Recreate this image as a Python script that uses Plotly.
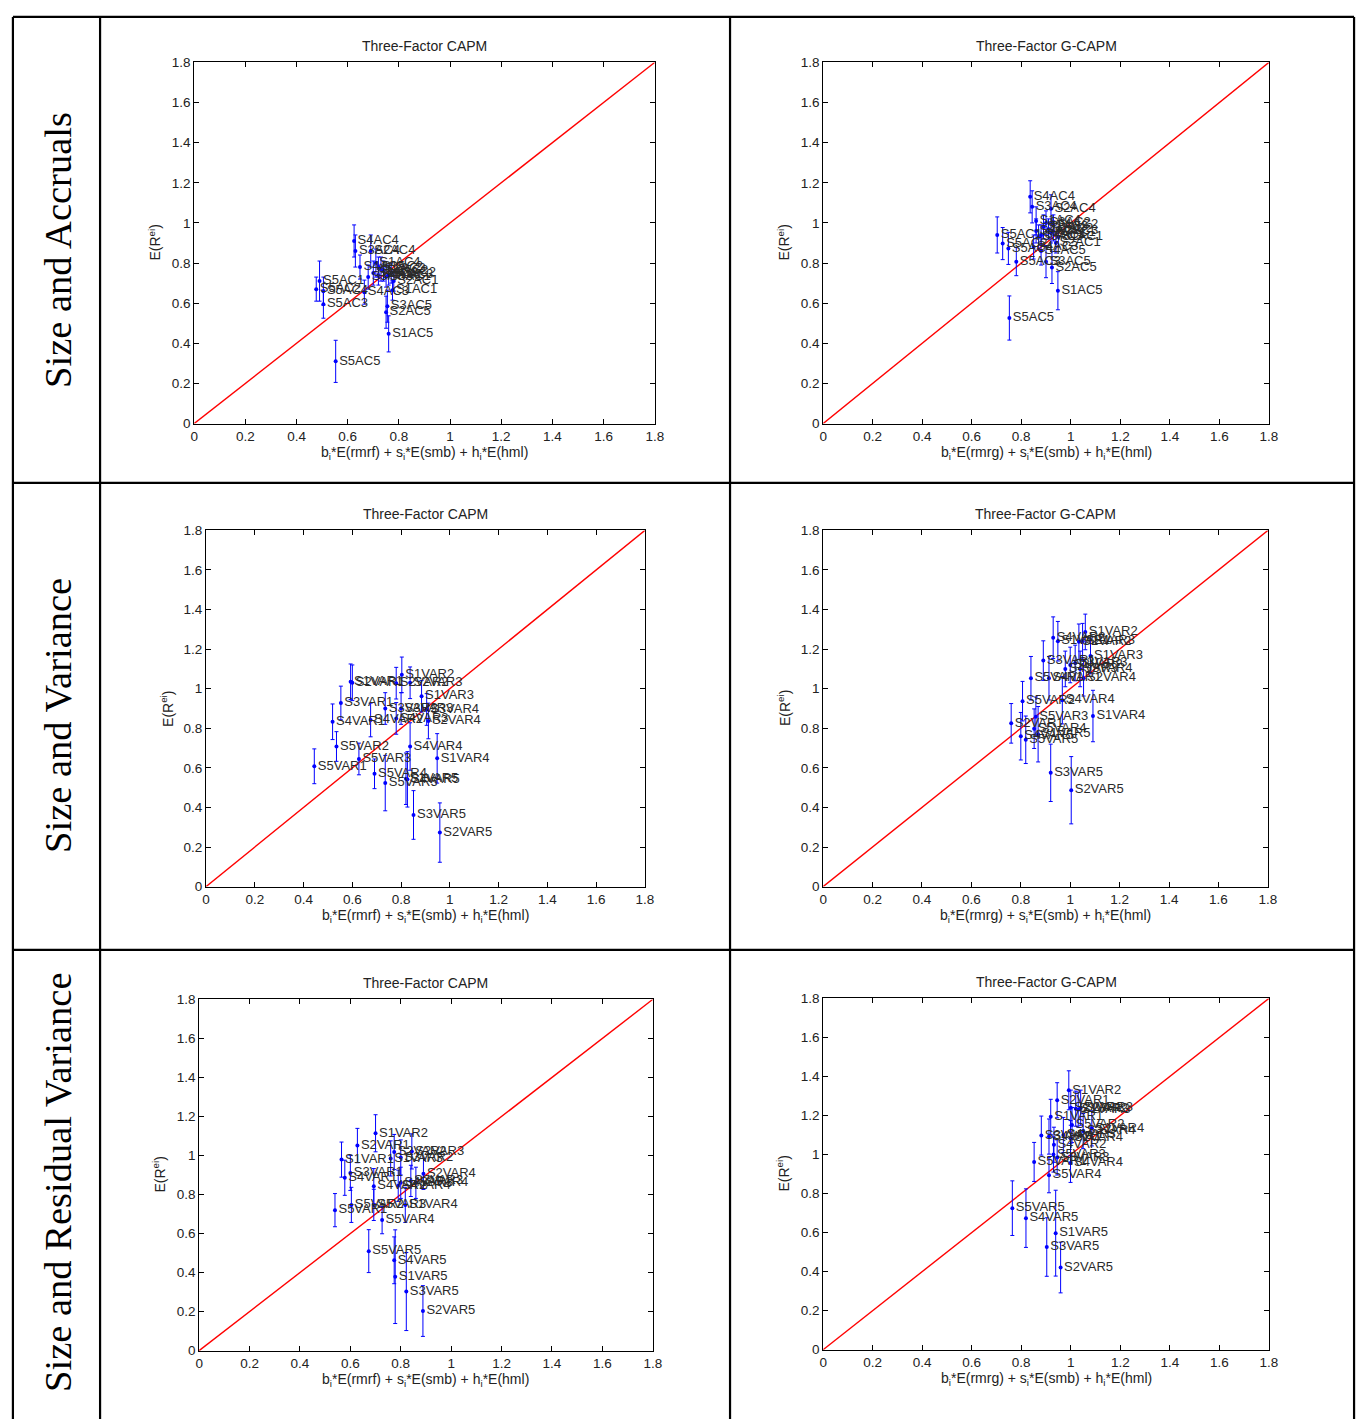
import plotly.graph_objects as go

W, H = 1370, 1419

# ---------------- data ----------------
ac_names = [f"S{s}AC{a}" for s in range(1, 6) for a in range(1, 6)]
var_names = [f"S{s}VAR{v}" for s in range(1, 6) for v in range(1, 6)]

# Panel 1: Size and Accruals, Three-Factor CAPM  (order S1AC1..S1AC5, S2AC1.. ...)
p1_x = [0.775, 0.72, 0.73, 0.71, 0.76,
        0.78, 0.74, 0.76, 0.69, 0.75,
        0.75, 0.77, 0.68, 0.63, 0.755,
        0.72, 0.70, 0.665, 0.625, 0.648,
        0.49, 0.477, 0.505, 0.505, 0.553]
p1_y = [0.665, 0.78, 0.77, 0.80, 0.447,
        0.71, 0.76, 0.74, 0.86, 0.555,
        0.73, 0.75, 0.73, 0.86, 0.585,
        0.74, 0.75, 0.655, 0.91, 0.78,
        0.71, 0.67, 0.595, 0.66, 0.31]
p1_e = [0.05, 0.05, 0.06, 0.07, 0.09,
        0.05, 0.05, 0.05, 0.08, 0.08,
        0.05, 0.05, 0.06, 0.08, 0.08,
        0.05, 0.06, 0.06, 0.08, 0.06,
        0.10, 0.06, 0.07, 0.07, 0.105]

# Panel 2: Size and Accruals, Three-Factor G-CAPM
p2_x = [0.95, 0.93, 0.89, 0.86, 0.948,
        0.94, 0.91, 0.93, 0.92, 0.924,
        0.92, 0.90, 0.87, 0.844, 0.90,
        0.88, 0.86, 0.85, 0.836, 0.88,
        0.703, 0.725, 0.78, 0.748, 0.752]
p2_y = [0.93, 0.99, 0.98, 1.01, 0.662,
        0.90, 0.97, 0.96, 1.07, 0.778,
        0.95, 1.00, 0.93, 1.08, 0.807,
        0.94, 0.96, 0.88, 1.13, 0.86,
        0.94, 0.897, 0.807, 0.873, 0.526]
p2_e = [0.05, 0.05, 0.06, 0.07, 0.095,
        0.05, 0.05, 0.05, 0.07, 0.08,
        0.05, 0.06, 0.06, 0.08, 0.08,
        0.05, 0.06, 0.06, 0.08, 0.07,
        0.09, 0.08, 0.07, 0.08, 0.11]

# Panel 3: Size and Variance, Three-Factor CAPM
p3_x = [0.593, 0.803, 0.884, 0.948, 0.82,
        0.60, 0.78, 0.837, 0.912, 0.959,
        0.553, 0.735, 0.80, 0.905, 0.851,
        0.519, 0.675, 0.78, 0.837, 0.826,
        0.444, 0.535, 0.627, 0.691, 0.735]
p3_y = [1.035, 1.07, 0.962, 0.648, 0.545,
        1.03, 1.028, 1.03, 0.837, 0.273,
        0.928, 0.90, 0.90, 0.895, 0.362,
        0.833, 0.842, 0.85, 0.708, 0.542,
        0.608, 0.708, 0.645, 0.57, 0.523]
p3_e = [0.09, 0.09, 0.08, 0.125, 0.13,
        0.09, 0.08, 0.08, 0.09, 0.15,
        0.085, 0.08, 0.08, 0.08, 0.123,
        0.09, 0.085, 0.08, 0.12, 0.14,
        0.088, 0.075, 0.08, 0.075, 0.14]

# Panel 4: Size and Variance, Three-Factor G-CAPM
p4_x = [0.95, 1.061, 1.082, 1.092, 0.87,
        0.761, 1.035, 1.05, 1.054, 1.004,
        0.891, 1.00, 1.02, 1.04, 0.921,
        0.914, 0.931, 0.98, 0.968, 0.80,
        0.841, 0.807, 0.861, 0.854, 0.82]
p4_y = [1.24, 1.287, 1.165, 0.862, 0.77,
        0.825, 1.237, 1.24, 1.053, 0.487,
        1.142, 1.12, 1.13, 1.10, 0.575,
        1.053, 1.258, 1.10, 0.942, 0.76,
        1.053, 0.937, 0.858, 0.798, 0.742]
p4_e = [0.10, 0.09, 0.09, 0.13, 0.14,
        0.10, 0.09, 0.09, 0.09, 0.17,
        0.10, 0.09, 0.09, 0.09, 0.145,
        0.11, 0.105, 0.09, 0.12, 0.12,
        0.11, 0.10, 0.10, 0.10, 0.12]

# Panel 5: Size and Residual Variance, Three-Factor CAPM
p5_x = [0.565, 0.70, 0.76, 0.818, 0.778,
        0.628, 0.774, 0.844, 0.89, 0.888,
        0.60, 0.80, 0.84, 0.86, 0.822,
        0.578, 0.693, 0.80, 0.79, 0.774,
        0.539, 0.604, 0.693, 0.726, 0.673]
p5_y = [0.979, 1.114, 0.985, 0.747, 0.379,
        1.051, 1.018, 1.021, 0.906, 0.203,
        0.911, 0.99, 0.87, 0.86, 0.303,
        0.886, 0.843, 0.86, 0.845, 0.463,
        0.72, 0.747, 0.747, 0.669, 0.51]
p5_e = [0.09, 0.095, 0.09, 0.09, 0.24,
        0.088, 0.09, 0.09, 0.08, 0.13,
        0.09, 0.09, 0.08, 0.08, 0.20,
        0.09, 0.09, 0.08, 0.08, 0.12,
        0.085, 0.09, 0.08, 0.07, 0.11]

# Panel 6: Size and Residual Variance, Three-Factor G-CAPM
p6_x = [0.919, 0.992, 1.03, 1.085, 0.939,
        0.945, 1.00, 1.04, 0.999, 0.959,
        0.881, 1.02, 0.945, 1.05, 0.903,
        0.912, 0.932, 0.97, 0.999, 0.819,
        0.852, 1.005, 0.93, 0.912, 0.764]
p6_y = [1.193, 1.329, 1.23, 1.134, 0.597,
        1.278, 1.24, 1.24, 1.084, 0.421,
        1.097, 1.235, 0.985, 1.12, 0.526,
        1.092, 1.05, 1.10, 0.957, 0.674,
        0.962, 1.151, 1.0, 0.894, 0.725]
p6_e = [0.09, 0.10, 0.09, 0.09, 0.22,
        0.09, 0.09, 0.09, 0.09, 0.13,
        0.10, 0.09, 0.09, 0.09, 0.15,
        0.09, 0.09, 0.09, 0.10, 0.15,
        0.10, 0.09, 0.09, 0.09, 0.14]

row_labels = ["Size and Accruals", "Size and Variance", "Size and Residual Variance"]
titles = ["Three-Factor CAPM", "Three-Factor G-CAPM"]
xlab_capm = "b<sub>i</sub>*E(rmrf) + s<sub>i</sub>*E(smb) + h<sub>i</sub>*E(hml)"
xlab_gcapm = "b<sub>i</sub>*E(rmrg) + s<sub>i</sub>*E(smb) + h<sub>i</sub>*E(hml)"
ylab = "E(R<sup>ei</sup>)"
tick_vals = [0, 0.2, 0.4, 0.6, 0.8, 1, 1.2, 1.4, 1.6, 1.8]
tick_text = ["0", "0.2", "0.4", "0.6", "0.8", "1", "1.2", "1.4", "1.6", "1.8"]
diag = [0, 1.8]

panels = [
    (p1_x, p1_y, p1_e, ac_names, 0, xlab_capm),
    (p2_x, p2_y, p2_e, ac_names, 1, xlab_gcapm),
    (p3_x, p3_y, p3_e, var_names, 0, xlab_capm),
    (p4_x, p4_y, p4_e, var_names, 1, xlab_gcapm),
    (p5_x, p5_y, p5_e, var_names, 0, xlab_capm),
    (p6_x, p6_y, p6_e, var_names, 1, xlab_gcapm),
]

# pixel boxes of each axes: (left, right, top, bottom)
boxes = [
    (192, 657, 56, 421),
    (827, 1277, 56, 421),
    (204, 647, 529, 889),
    (827, 1276, 529, 889),
    (197, 655, 1003, 1358),
    (827, 1277, 1002, 1357),
]

def px(x):
    return x / W

def py(y):
    return 1 - y / H

FONT = "Liberation Sans, Arial, sans-serif"

fig = go.Figure()
layout = dict(
    width=W, height=H,
    margin=dict(l=0, r=0, t=0, b=0),
    paper_bgcolor="white", plot_bgcolor="white",
    showlegend=False,
    font=dict(family=FONT, size=14, color="#222"),
)
annotations = []

for i, ((xs, ys, es, names, kind, xlab), (l, r, t, b)) in enumerate(zip(panels, boxes)):
    k = i + 1
    xa = "x" if k == 1 else f"x{k}"
    ya = "y" if k == 1 else f"y{k}"
    fig.add_trace(go.Scatter(
        x=diag, y=diag, mode="lines", xaxis=xa, yaxis=ya,
        line=dict(color="red", width=1.4), hoverinfo="skip"))
    fig.add_trace(go.Scatter(
        x=xs, y=ys, mode="markers+text", xaxis=xa, yaxis=ya,
        text=names, textposition="middle right",
        textfont=dict(family=FONT, size=13, color="#2a2a2a"),
        marker=dict(color="blue", size=4),
        error_y=dict(type="data", array=es, visible=True, color="blue",
                     thickness=1, width=2),
        cliponaxis=False))
    axis_common = dict(
        range=[0, 1.8], tickvals=tick_vals, ticktext=tick_text,
        ticks="inside", ticklen=5, tickcolor="black", tickwidth=1,
        showline=True, linecolor="black", linewidth=1, mirror="allticks",
        showgrid=False, zeroline=False,
        tickfont=dict(family=FONT, size=13.5, color="#222"),
    )
    xkey = "xaxis" if k == 1 else f"xaxis{k}"
    ykey = "yaxis" if k == 1 else f"yaxis{k}"
    layout[xkey] = dict(axis_common, domain=[px(l), px(r)], anchor=ya)
    layout[ykey] = dict(axis_common, domain=[py(b), py(t)], anchor=xa)
    cx = (l + r) / 2
    cy = (t + b) / 2
    annotations.append(dict(text=titles[kind], x=px(cx), y=py(t - 17), xref="paper", yref="paper",
                            showarrow=False, font=dict(family=FONT, size=14, color="#222"),
                            xanchor="center", yanchor="middle"))
    annotations.append(dict(text=xlab, x=px(cx), y=py(b + 30), xref="paper", yref="paper",
                            showarrow=False, font=dict(family=FONT, size=14, color="#222"),
                            xanchor="center", yanchor="middle"))
    annotations.append(dict(text=ylab, x=px(l - 40), y=py(cy), xref="paper", yref="paper",
                            showarrow=False, textangle=-90,
                            font=dict(family=FONT, size=14, color="#222"),
                            xanchor="center", yanchor="middle"))

row_centers = [245, 716, 1188]
for lab, yc in zip(row_labels, row_centers):
    annotations.append(dict(text=lab, x=px(55), y=py(yc), xref="paper", yref="paper",
                            showarrow=False, textangle=-90,
                            font=dict(family="Liberation Serif, Times New Roman, serif", size=38.5, color="black"),
                            xanchor="center", yanchor="middle"))

# table lines
shapes = []
lw = 2.2
for (x0, y0, x1, y1) in [(9, 10, 1363, 10), (9, 10, 9, 1430), (1363, 10, 1363, 1430),
                         (97, 10, 97, 1430), (733, 10, 733, 1430),
                         (9, 481, 1363, 481), (9, 953, 1363, 953)]:
    shapes.append(dict(type="line", xref="paper", yref="paper",
                       x0=px(x0), x1=px(x1), y0=py(y0), y1=py(y1),
                       line=dict(color="black", width=lw)))

layout["annotations"] = annotations
layout["shapes"] = shapes
fig.update_layout(**layout)
fig.write_html(
    "out.html",
    config={"displayModeBar": False},
    post_script=(
        "document.documentElement.style.margin='0';"
        "document.body.style.margin='0';document.body.style.padding='0';"
        "var d=document.getElementById('{plot_id}');"
        "d.style.position='absolute';d.style.left='0px';d.style.top='0px';"
        "document.documentElement.style.overflow='hidden';"
    ),
)
